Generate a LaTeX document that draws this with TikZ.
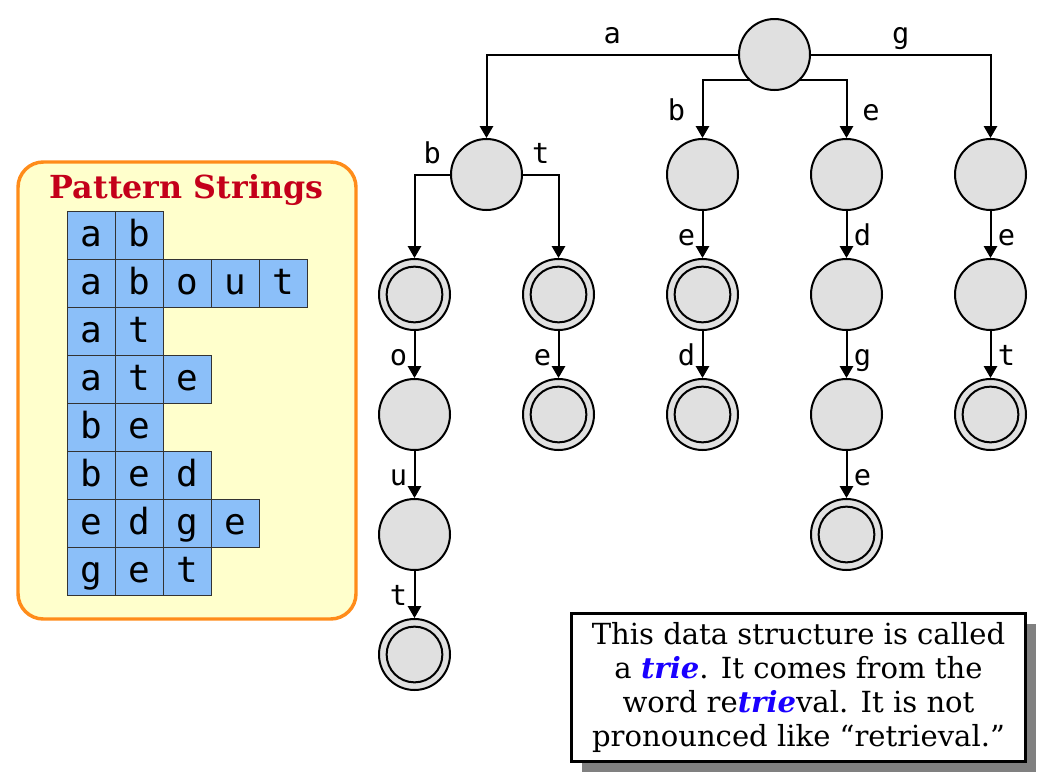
\documentclass[tikz,border=0pt]{standalone}
\usepackage{fontspec}
\setmainfont{DejaVu Serif}
\newfontfamily\monof{DejaVu Sans Mono}
\usetikzlibrary{arrows.meta,shadows}
\definecolor{nodefill}{HTML}{E0E0E0}
\definecolor{cellfill}{HTML}{8BBFF9}
\definecolor{panelfill}{HTML}{FFFFCC}
\definecolor{panelborder}{HTML}{FF8C1A}
\definecolor{titlered}{HTML}{C4001A}
\definecolor{shadowgray}{HTML}{808080}
\definecolor{trieblue}{HTML}{1A00FF}
\begin{document}
\begin{tikzpicture}[x=0.75pt,y=-0.75pt,
  state/.style={circle,draw,line width=1.5pt,fill=nodefill,minimum size=53.25pt,inner sep=0pt},
  accept/.style={state,path picture={\draw[line width=1.5pt] (path picture bounding box.center) circle[radius=20.9pt];}},
  edge/.style={line width=1.5pt,-{Triangle[length=9pt,width=10pt]}},
  lab/.style={font=\monof\fontsize{21.5}{21.5}\selectfont,inner sep=0pt,anchor=base},
  hlab/.style={lab,pos=0.25,yshift=8.1pt},
  llab/.style={lab,pos=0.5,xshift=-12pt,yshift=-7.9pt},
  rlab/.style={lab,pos=0.5,xshift=12pt,yshift=-7.9pt},
  cell/.style={draw=black!80,line width=0.75pt,fill=cellfill,minimum size=36pt,inner sep=0pt,
     font=\monof\fontsize{27}{27}\selectfont,text height=20pt,text depth=2.5pt},
]
\useasboundingbox (0,0) rectangle (1051,782);

% pattern strings panel
\draw[draw=panelborder,line width=2.6pt,fill=panelfill,rounded corners=19pt] (18,162) rectangle (356,619);
\node[font=\bfseries\fontsize{23.8}{23.8}\selectfont,text=titlered,anchor=base,inner sep=0pt] (title) at (186.5,198) {Pattern Strings};
\foreach \row [count=\r from 0] in {{a,b},{a,b,o,u,t},{a,t},{a,t,e},{b,e},{b,e,d},{e,d,g,e},{g,e,t}} {
  \foreach \ch [count=\c from 0] in \row {
    \node[cell] (c\r-\c) at ({91+48*\c},{235+48*\r}) {\ch};
  }
}

% trie nodes
\node[state]  (root)  at (774.5,54.5) {};
\node[state]  (A)     at (486.5,174.5) {};
\node[state]  (B)     at (702.5,174.5) {};
\node[state]  (E)     at (846.5,174.5) {};
\node[state]  (G)     at (990.5,174.5) {};
\node[accept] (ab)    at (414.5,294.5) {};
\node[accept] (at)    at (558.5,294.5) {};
\node[accept] (be)    at (702.5,294.5) {};
\node[state]  (ed)    at (846.5,294.5) {};
\node[state]  (ge)    at (990.5,294.5) {};
\node[state]  (abo)   at (414.5,414.5) {};
\node[accept] (ate)   at (558.5,414.5) {};
\node[accept] (bed)   at (702.5,414.5) {};
\node[state]  (edg)   at (846.5,414.5) {};
\node[accept] (get)   at (990.5,414.5) {};
\node[state]  (abou)  at (414.5,534.5) {};
\node[accept] (edge)  at (846.5,534.5) {};
\node[accept] (about) at (414.5,654.5) {};

% edges
\draw[edge] (root.west) -| node[hlab]{a} (A.north);
\draw[edge] (root.east) -| node[hlab]{g} (G.north);
\draw[edge] (root.south west) -| node[lab,pos=0.75,xshift=-19.5pt,yshift=-8.25pt]{b} (B.north);
\draw[edge] (root.south east) -| node[lab,pos=0.75,xshift=18.4pt,yshift=-8.25pt]{e} (E.north);
\draw[edge] (A.west) -| node[hlab]{b} (ab.north);
\draw[edge] (A.east) -| node[hlab]{t} (at.north);
\draw[edge] (ab) -- node[llab]{o} (abo);
\draw[edge] (abo) -- node[llab]{u} (abou);
\draw[edge] (abou) -- node[llab]{t} (about);
\draw[edge] (at) -- node[llab]{e} (ate);
\draw[edge] (B) -- node[llab]{e} (be);
\draw[edge] (be) -- node[llab]{d} (bed);
\draw[edge] (E) -- node[rlab]{d} (ed);
\draw[edge] (ed) -- node[rlab]{g} (edg);
\draw[edge] (edg) -- node[rlab]{e} (edge);
\draw[edge] (G) -- node[rlab]{e} (ge);
\draw[edge] (ge) -- node[rlab]{t} (get);

% note
\node[draw,line width=2.25pt,fill=white,minimum width=340.5pt,minimum height=111pt,align=center,
  font=\fontsize{21.8}{25.6}\selectfont,
  drop shadow={shadow xshift=7.5pt,shadow yshift=-7.5pt,fill=shadowgray,opacity=1}] (note) at (798.5,687.5)
  {This data structure is called\\ a \textcolor{trieblue}{\textbf{\textit{trie}}}. It comes from the\\ word re\textcolor{trieblue}{\textbf{\textit{trie}}}val. It is not\\ pronounced like “retrieval.”};
\end{tikzpicture}
\end{document}
